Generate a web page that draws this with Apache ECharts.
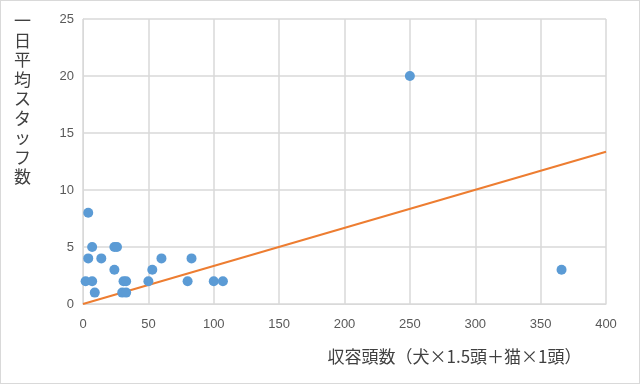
<!DOCTYPE html>
<html>
<head>
<meta charset="utf-8">
<script src="https://cdn.jsdelivr.net/npm/echarts@6/dist/echarts.min.js"></script>
<style>
html,body{margin:0;padding:0;background:#fff;}
#c{width:638px;height:382px;border:1px solid #d9d9d9;}
</style>
</head>
<body>
<div id="c"></div>
<script>
var xName = '収容頭数（犬×1.5頭＋猫×1頭）';
var yName = '一日平均スタッフ数';
var capacity = [2, 7, 4, 7, 4, 14, 24, 26, 24, 9, 31, 33, 30, 33, 50, 53, 60, 80, 83, 100, 107, 250, 366];
var staff    = [2, 2, 8, 5, 4, 4,  5,  5,  3,  1, 2,  2,  1,  1,  2,  3,  4,  2,  4,  2,   2,   20,  3];
var trendX = [0, 400];
var trendY = [0, 13.35];

var pts = capacity.map(function (v, i) { return [v, staff[i]]; });
var trend = trendX.map(function (v, i) { return [v, trendY[i]]; });

var chart = echarts.init(document.getElementById('c'));
chart.setOption({
  animation: false,
  grid: { left: 82, right: 33, top: 18, bottom: 79 },
  xAxis: {
    type: 'value', min: 0, max: 400, interval: 50,
    axisLine: { show: true, lineStyle: { color: '#d9d9d9', width: 1 } },
    axisTick: { show: false },
    splitLine: { show: true, lineStyle: { color: '#d9d9d9', width: 1.5 } },
    axisLabel: { color: '#595959', fontSize: 13, fontFamily: 'Liberation Sans, Arial', margin: 14 },
    name: xName, nameLocation: 'middle', nameGap: 44,
    nameTextStyle: { color: '#404040', fontSize: 17, fontFamily: 'Noto Sans CJK JP', padding: [0, 0, 0, 220] }
  },
  yAxis: {
    type: 'value', min: 0, max: 25, interval: 5,
    axisLine: { show: true, lineStyle: { color: '#d9d9d9', width: 1 } },
    axisTick: { show: false },
    splitLine: { show: true, lineStyle: { color: '#d9d9d9', width: 1.5 } },
    axisLabel: { color: '#595959', fontSize: 13, fontFamily: 'Liberation Sans, Arial', margin: 9 }
  },
  graphic: [{
    type: 'text', left: 13, top: 10,
    style: {
      text: yName.split('').join('\n'),
      fill: '#404040', fontSize: 17, lineHeight: 19.5,
      fontFamily: 'Noto Sans CJK JP', align: 'center'
    }
  }],
  series: [
    {
      type: 'scatter', data: pts, symbolSize: 10,
      itemStyle: { color: '#5b9bd5', opacity: 1 }, z: 3
    },
    {
      type: 'line', data: trend, symbol: 'none',
      lineStyle: { color: '#ed7d31', width: 2 }, z: 2
    }
  ]
});
</script>
</body>
</html>
